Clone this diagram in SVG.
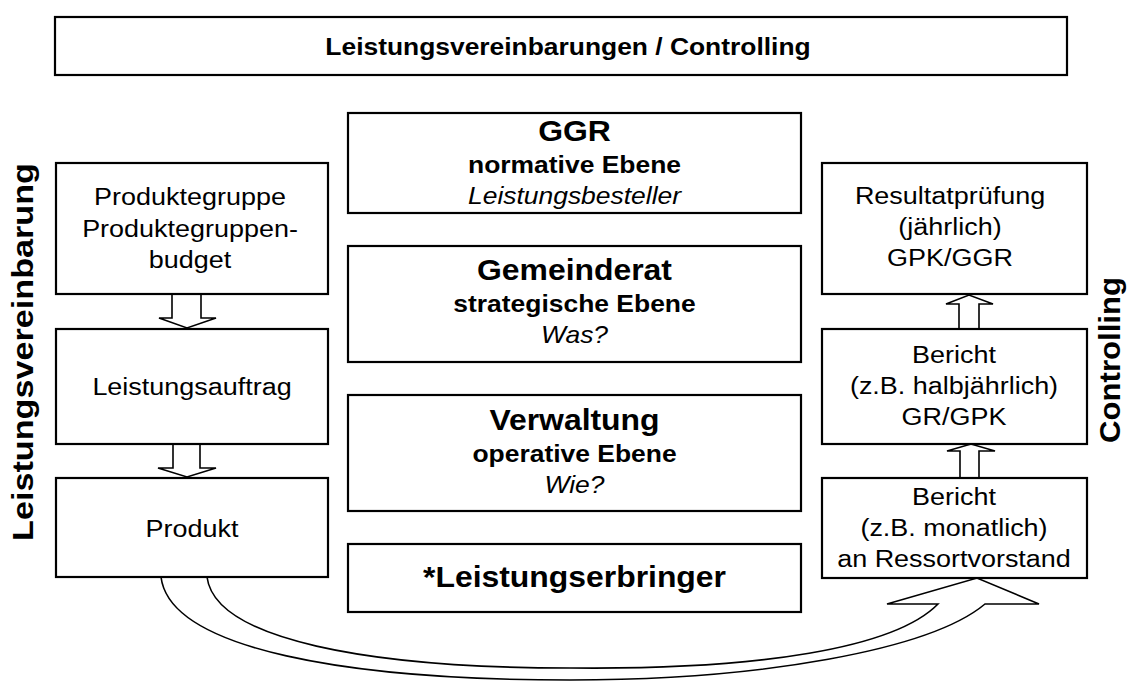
<svg xmlns="http://www.w3.org/2000/svg" width="1143" height="686" viewBox="0 0 1143 686">
<style>
.box{fill:#fff;stroke:#000;stroke-width:2.2}
.arr{fill:#fff;stroke:#000;stroke-width:1.6;stroke-linejoin:miter}
text{font-family:"Liberation Sans",Arial,sans-serif;fill:#000;text-anchor:middle}
.reg{font-size:24.5px}
.big{font-size:29px;font-weight:bold}
.sub{font-size:23px;font-weight:bold}
.it{font-size:23px;font-style:italic}
.hdr{font-size:24px;font-weight:bold}
.side{font-size:30px;font-weight:bold}
</style>
<rect width="1143" height="686" fill="#fff"/>
<g id="connectors">
<path class="arr" d="M172,294 V318 H159 L187,328 L216,318 H201 V294"/>
<path class="arr" d="M173,444 V468 H158 L187,477 L216,468 H200 V444"/>
<path class="arr" d="M959,329 V304 H946 L969,295 L993,304 H979 V329"/>
<path class="arr" d="M960,478 V451 H947 L971,444 L995,451 H979 V478"/>
<path class="arr" d="M161,577 C170,650 350,680 570,680 C760,680 930,650 985,604 L1039,604 L977,578 L887,604 L938,604 C895,648 760,670 570,668 C370,668 215,640 207,577 Z"/>
</g>
<g id="top">
<rect class="box" x="55" y="17" width="1012" height="58"/>
<g transform="translate(568 0) scale(1.1 1)"><text class="hdr" x="0" y="55">Leistungsvereinbarungen / Controlling</text></g>
</g>
<g id="label-left">
<text class="side" transform="translate(33 352) rotate(-90)" x="0" y="0" textLength="378" lengthAdjust="spacingAndGlyphs">Leistungsvereinbarung</text>
</g>
<g id="label-right">
<text class="side" transform="translate(1120 360) rotate(-90)" x="0" y="0" textLength="166" lengthAdjust="spacingAndGlyphs">Controlling</text>
</g>
<g id="produktegruppe">
<rect class="box" x="56" y="163" width="272" height="131"/>
<g transform="translate(190 0) scale(1.1 1)">
<text class="reg" x="0" y="205">Produktegruppe</text>
<text class="reg" x="0" y="237">Produktegruppen-</text>
<text class="reg" x="0" y="268">budget</text>
</g>
</g>
<g id="leistungsauftrag">
<rect class="box" x="56" y="329" width="272" height="115"/>
<g transform="translate(192 0) scale(1.1 1)"><text class="reg" x="0" y="395">Leistungsauftrag</text></g>
</g>
<g id="produkt">
<rect class="box" x="56" y="478" width="272" height="99"/>
<g transform="translate(192 0) scale(1.1 1)"><text class="reg" x="0" y="537">Produkt</text></g>
</g>
<g id="ggr">
<rect class="box" x="348" y="113" width="453" height="100"/>
<g transform="translate(574.5 0) scale(1.1 1)">
<text class="big" x="0" y="141">GGR</text>
</g>
<g transform="translate(574.5 0) scale(1.15 1)">
<text class="sub" x="0" y="173">normative Ebene</text>
<text class="it" x="0" y="204">Leistungsbesteller</text>
</g>
</g>
<g id="gemeinderat">
<rect class="box" x="348" y="246" width="453" height="116"/>
<g transform="translate(574.5 0) scale(1.1 1)">
<text class="big" x="0" y="280">Gemeinderat</text>
</g>
<g transform="translate(574.5 0) scale(1.15 1)">
<text class="sub" x="0" y="312">strategische Ebene</text>
<text class="it" x="0" y="343">Was?</text>
</g>
</g>
<g id="verwaltung">
<rect class="box" x="348" y="395" width="453" height="116"/>
<g transform="translate(574.5 0) scale(1.1 1)">
<text class="big" x="0" y="430">Verwaltung</text>
</g>
<g transform="translate(574.5 0) scale(1.15 1)">
<text class="sub" x="0" y="462">operative Ebene</text>
<text class="it" x="0" y="493">Wie?</text>
</g>
</g>
<g id="leistungserbringer">
<rect class="box" x="348" y="544" width="453" height="68"/>
<g transform="translate(574.5 0) scale(1.1 1)"><text class="big" x="0" y="587">*Leistungserbringer</text></g>
</g>
<g id="resultatpruefung">
<rect class="box" x="822" y="163" width="265" height="131"/>
<g transform="translate(950 0) scale(1.1 1)">
<text class="reg" x="0" y="204">Resultatprüfung</text>
<text class="reg" x="0" y="235">(jährlich)</text>
<text class="reg" x="0" y="266">GPK/GGR</text>
</g>
</g>
<g id="bericht-halbjaehrlich">
<rect class="box" x="822" y="329" width="265" height="115"/>
<g transform="translate(954 0) scale(1.1 1)">
<text class="reg" x="0" y="363">Bericht</text>
<text class="reg" x="0" y="394">(z.B. halbjährlich)</text>
<text class="reg" x="0" y="425">GR/GPK</text>
</g>
</g>
<g id="bericht-monatlich">
<rect class="box" x="822" y="478" width="265" height="100"/>
<g transform="translate(954 0) scale(1.1 1)">
<text class="reg" x="0" y="505">Bericht</text>
<text class="reg" x="0" y="536">(z.B. monatlich)</text>
<text class="reg" x="0" y="567">an Ressortvorstand</text>
</g>
</g>
</svg>
